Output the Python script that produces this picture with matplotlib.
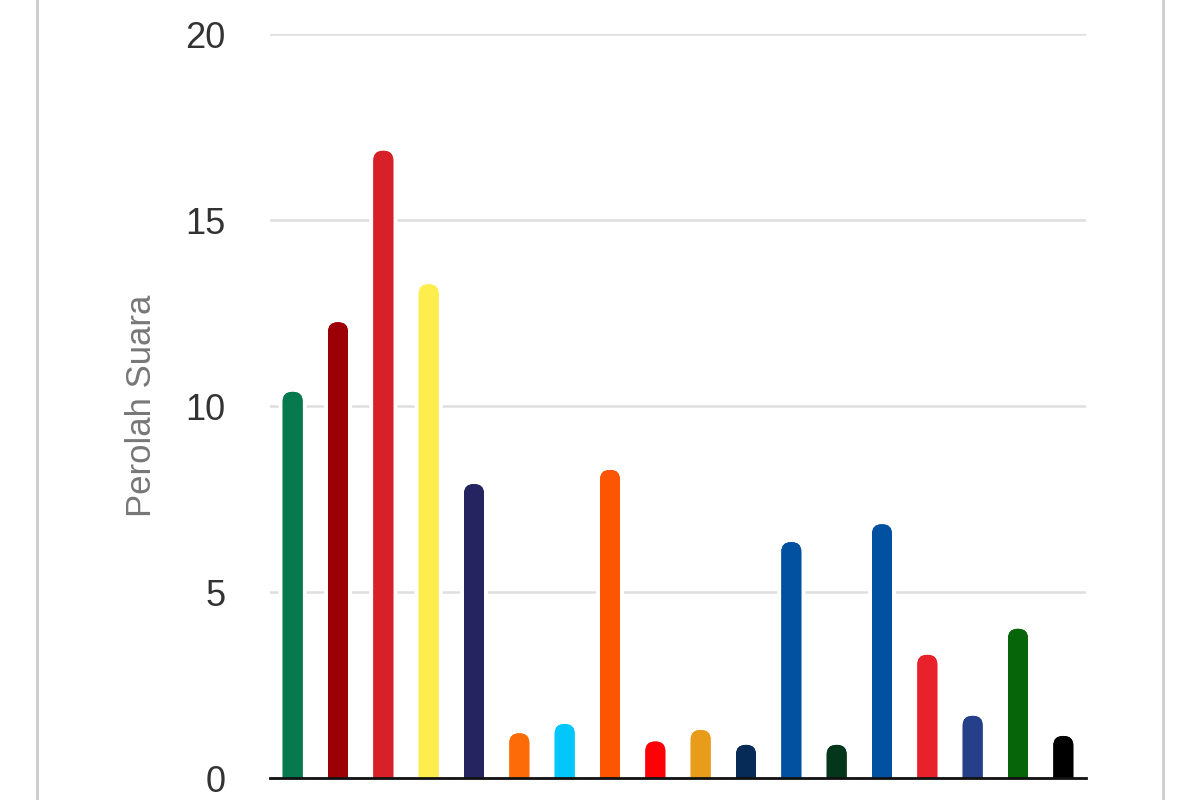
import matplotlib.pyplot as plt
from matplotlib.patches import FancyBboxPatch
from matplotlib.lines import Line2D
import matplotlib.patheffects as pe

# data
parties = ['P1', 'P2', 'P3', 'P4', 'P5', 'P6', 'P7', 'P8', 'P9',
           'P10', 'P11', 'P12', 'P13', 'P14', 'P15', 'P16', 'P17', 'P18']
votes = [10.38, 12.25, 16.86, 13.27, 7.90, 1.20, 1.45, 8.28, 0.98,
         1.29, 0.89, 6.34, 0.89, 6.82, 3.31, 1.67, 4.01, 1.13]
colors = ['#07794f', '#9c0006', '#d72027', '#fdee4e', '#252461', '#fd6b08',
          '#03c6fb', '#fe5503', '#fc0207', '#e99b1a', '#072b57', '#0251a0',
          '#04361b', '#0251a0', '#e8212a', '#263f89', '#056508', '#000000']
yticks = [0, 5, 10, 15, 20]

plt.rcParams['font.family'] = ['Liberation Sans', 'DejaVu Sans']

fig = plt.figure(figsize=(12, 8), dpi=100)
ax = fig.add_axes([0.225, 0.0275, 0.680, 0.93])

x = list(range(len(votes)))
bars = ax.bar(x, votes, width=0.44, color=colors)

# swap plain rectangles for bars with rounded tops
aspect = (1 / 37.2) / (1 / 45.3)
for rect, c in zip(bars, colors):
    rect.set_visible(False)
    p = FancyBboxPatch((rect.get_x(), -0.5), rect.get_width(), rect.get_height() + 0.5,
                       boxstyle='round,pad=0,rounding_size=0.21',
                       mutation_aspect=aspect, facecolor=c, edgecolor='none', zorder=3)
    p.set_path_effects([pe.withStroke(linewidth=6, foreground='white'), pe.Normal()])
    ax.add_patch(p)

ax.set_xlim(-0.5, len(votes) - 0.5)
ax.set_ylim(0, 20)
ax.set_yticks(yticks)
ax.set_xticks([])
ax.grid(axis='y', color='#dedede', linewidth=1.8, zorder=0)
ax.set_axisbelow(True)

for s in ['top', 'right', 'left']:
    ax.spines[s].set_visible(False)
ax.spines['bottom'].set_color('#111111')
ax.spines['bottom'].set_linewidth(2)
ax.spines['bottom'].set_zorder(5)

ax.tick_params(axis='y', length=0, pad=32, labelsize=26, labelcolor='#333333')
ax.set_ylabel('Perolah Suara', fontsize=25, color='#777777')
ax.yaxis.set_label_coords(-0.137, 0.5)

# thin frame lines at the image edges
fig.add_artist(Line2D([37 / 1200, 37 / 1200], [0, 1], color='#cccccc', linewidth=2))
fig.add_artist(Line2D([1163 / 1200, 1163 / 1200], [0, 1], color='#cccccc', linewidth=2))

fig.savefig('out.png', dpi=100)
